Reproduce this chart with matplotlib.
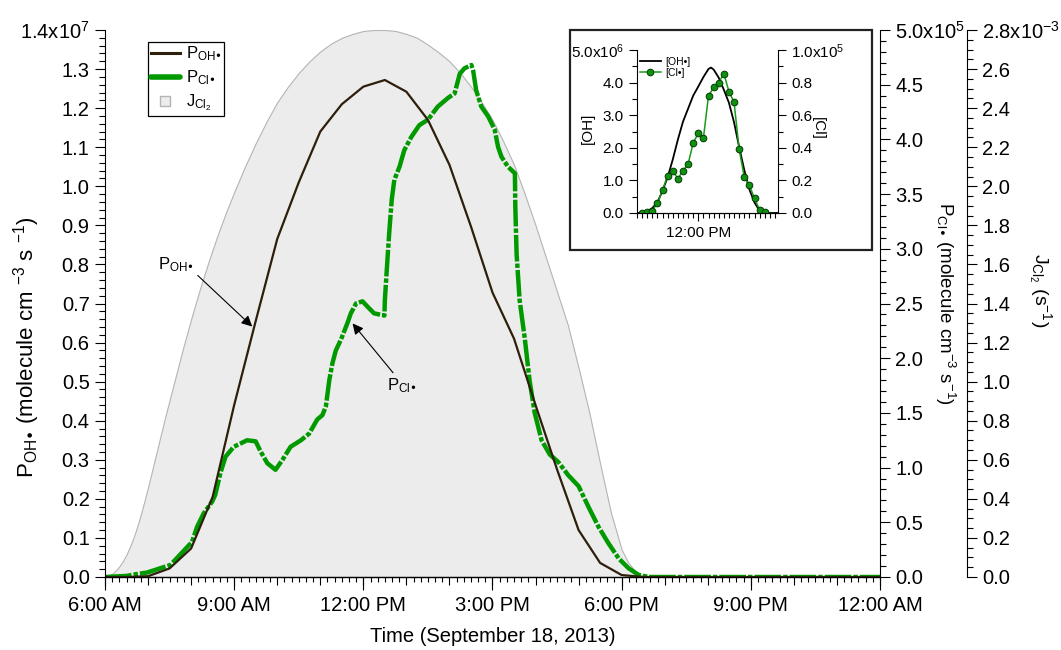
import numpy as np
import matplotlib
matplotlib.use("Agg")
import matplotlib.pyplot as plt
from matplotlib.lines import Line2D
from matplotlib.patches import Rectangle
from matplotlib.ticker import MultipleLocator, FuncFormatter, FixedLocator

plt.rcParams['font.family'] = ['Liberation Sans', 'DejaVu Sans']
plt.rcParams['mathtext.default'] = 'regular'

# ---- data (time in hours of Sept 18, 2013) ----
# P_OH (molecule cm-3 s-1)
oh_time = [6.0, 6.5, 7.0, 7.5, 8.0, 8.5, 9.0, 9.5, 10.0, 10.5, 11.0, 11.5, 12.0,
           12.5, 13.0, 13.5, 14.0, 14.5, 15.0, 15.5, 16.0, 16.5, 17.0, 17.5,
           18.0, 18.5, 24.0]
oh_prod = [0.0, 0.0, 0.002e7, 0.022e7, 0.073e7, 0.205e7, 0.44e7, 0.655e7,
           0.865e7, 1.01e7, 1.14e7, 1.21e7, 1.255e7, 1.272e7, 1.242e7, 1.17e7,
           1.055e7, 0.897e7, 0.728e7, 0.61e7, 0.44e7, 0.275e7, 0.12e7,
           0.036e7, 0.005e7, 0.0, 0.0]

# P_Cl (x1e5 molecule cm-3 s-1)
cl_time = [6.0, 6.5, 6.74, 6.97, 7.52, 8.02, 8.14, 8.29, 8.49, 8.56, 8.68, 8.80,
           8.99, 9.30, 9.50, 9.61, 9.77, 9.96, 10.12, 10.31, 10.55, 10.74,
           10.93, 11.05, 11.13, 11.21, 11.28, 11.36, 11.48, 11.63, 11.71,
           11.83, 11.98, 12.10, 12.25, 12.49, 12.50, 12.55, 12.60, 12.66,
           12.72, 12.84, 12.95, 13.11, 13.30, 13.50, 13.73, 13.97, 14.12,
           14.24, 14.35, 14.51, 14.55, 14.62, 14.74, 14.90, 15.05, 15.13,
           15.21, 15.36, 15.52, 15.53, 15.56, 15.63, 15.75, 15.86, 15.98,
           16.14, 16.33, 16.53, 16.76, 17.00, 17.23, 17.46, 17.69, 17.93,
           18.16, 18.39, 18.63, 24.0]
cl_prod = [0.0, 0.01, 0.027, 0.04, 0.11, 0.32, 0.46, 0.58, 0.69, 0.75, 0.95, 1.10,
           1.19, 1.25, 1.24, 1.15, 1.04, 0.98, 1.07, 1.19, 1.25, 1.31,
           1.44, 1.48, 1.56, 1.80, 1.95, 2.07, 2.17, 2.32, 2.41,
           2.50, 2.52, 2.47, 2.41, 2.39, 2.53, 2.84, 3.14, 3.45,
           3.63, 3.75, 3.90, 4.02, 4.13, 4.18, 4.30, 4.38, 4.42,
           4.60, 4.65, 4.68, 4.63, 4.45, 4.30, 4.21, 4.09, 3.93,
           3.84, 3.75, 3.69, 3.38, 2.95, 2.53, 2.18, 1.80, 1.50,
           1.25, 1.12, 1.05, 0.93, 0.83, 0.64, 0.46, 0.31, 0.17,
           0.08, 0.02, 0.0, 0.0]
cl_prod = [v * 1e5 for v in cl_prod]

# J_Cl2 (x1e-3 s-1)
j_time = [6.0, 6.1, 6.2, 6.3, 6.4, 6.5, 6.6, 6.7, 6.8, 6.9, 7.0, 7.2, 7.4, 7.6,
          7.8, 8.0, 8.2, 8.4, 8.6, 8.8, 9.0, 9.25, 9.5, 9.75, 10.0, 10.25,
          10.5, 10.75, 11.0, 11.25, 11.5, 11.75, 12.0, 12.25, 12.5, 12.75,
          13.0, 13.25, 13.5, 13.75, 14.0, 14.25, 14.5, 14.75, 15.0, 15.25,
          15.5, 15.75, 16.0, 16.25, 16.5, 16.75, 17.0, 17.25, 17.5, 17.75,
          18.0, 18.15, 18.3, 18.45, 18.6, 24.0]
j_cl2 = [0.0, 0.008, 0.022, 0.045, 0.075, 0.115, 0.165, 0.225, 0.295, 0.375,
         0.46, 0.64, 0.82, 0.99, 1.16, 1.32, 1.47, 1.61, 1.74, 1.86, 1.97,
         2.10, 2.22, 2.33, 2.43, 2.51, 2.58, 2.64, 2.69, 2.73, 2.76, 2.78,
         2.795, 2.80, 2.80, 2.795, 2.78, 2.76, 2.725, 2.685, 2.64, 2.58,
         2.51, 2.43, 2.34, 2.23, 2.11, 1.96, 1.80, 1.63, 1.46, 1.29, 1.07,
         0.84, 0.58, 0.33, 0.14, 0.075, 0.033, 0.01, 0.0, 0.0]
j_cl2 = [v * 1e-3 for v in j_cl2]

# inset: radical concentrations
oh_conc_time = [6.0, 6.5, 7.0, 7.5, 8.0, 8.5, 9.0, 9.5, 10.0, 10.5, 11.0, 11.5,
                12.0, 12.5, 13.0, 13.25, 13.5, 14.0, 14.5, 15.0, 15.5, 16.0,
                16.5, 17.0, 17.5, 18.0, 18.5, 19.8]
oh_conc = [0.0, 0.01, 0.05, 0.15, 0.33, 0.68, 1.1, 1.64, 2.25, 2.8, 3.2, 3.6,
           3.88, 4.17, 4.42, 4.46, 4.4, 4.15, 3.78, 3.38, 2.78, 2.02,
           1.32, 0.72, 0.32, 0.07, 0.0, 0.0]
oh_conc = [v * 1e6 for v in oh_conc]

cl_conc_time = [6.5, 7.0, 7.5, 8.0, 8.5, 9.0, 9.5, 10.0, 10.5, 11.0, 11.5, 12.0,
                12.5, 13.0, 13.5, 14.0, 14.5, 15.0, 15.5, 16.0, 16.5, 17.0,
                17.5, 18.0, 18.5]
cl_conc = [0.0, 0.005, 0.015, 0.06, 0.14, 0.23, 0.26, 0.21, 0.26, 0.30, 0.43,
           0.49, 0.46, 0.72, 0.77, 0.80, 0.855, 0.745, 0.68, 0.39, 0.22, 0.17,
           0.09, 0.02, 0.005]
cl_conc = [v * 1e5 for v in cl_conc]

xticks = [6, 9, 12, 15, 18, 21, 24]
xticklabels = ['6:00 AM', '9:00 AM', '12:00 PM', '3:00 PM', '6:00 PM',
               '9:00 PM', '12:00 AM']

brown = '#2e1f0b'
green = '#009a00'
FS = 14.5


def top_fmt(scale, exp, top):
    def f(v, pos):
        if np.isclose(v, top):
            return f'{v / scale:.1f}x10$^{{{exp}}}$'
        return f'{v / scale:.1f}'
    return FuncFormatter(f)


fig = plt.figure(figsize=(10.61, 6.5), dpi=100)
ax = fig.add_axes([105 / 1061, 73 / 650, 775 / 1061, 547 / 650])
ax_cl = ax.twinx()
ax_j = ax.twinx()

ax_j.set_zorder(1)
ax_cl.set_zorder(2)
ax.set_zorder(3)
ax.patch.set_visible(False)

# J_Cl2 shaded area
ax_j.fill_between(j_time, 0, j_cl2, facecolor='#ececec', edgecolor='#b4b4b4',
                  lw=0.8)
ax_j.set_ylim(0, 2.8e-3)

# P_Cl line
ax_cl.plot(cl_time, cl_prod, color=green, lw=3.2,
           linestyle=(0, (6, 0.45, 1.0, 0.45)))
ax_cl.set_ylim(0, 5e5)

# P_OH line
ax.plot(oh_time, oh_prod, color=brown, lw=1.6)
ax.set_ylim(0, 1.4e7)
ax.set_xlim(6, 24)

# spines
for a in (ax, ax_cl, ax_j):
    a.spines['top'].set_visible(False)
ax.spines['right'].set_visible(False)
ax_cl.spines['left'].set_visible(False)
ax_j.spines['left'].set_visible(False)
ax_j.spines['right'].set_position(('axes', 1 + 87 / 775))

# y ticks
ax.yaxis.set_major_locator(MultipleLocator(1e6))
ax.yaxis.set_minor_locator(MultipleLocator(2e5))
ax.yaxis.set_major_formatter(top_fmt(1e7, 7, 1.4e7))
ax_cl.yaxis.set_major_locator(MultipleLocator(5e4))
ax_cl.yaxis.set_minor_locator(MultipleLocator(1e4))
ax_cl.yaxis.set_major_formatter(top_fmt(1e5, 5, 5e5))
ax_j.yaxis.set_major_locator(MultipleLocator(2e-4))
ax_j.yaxis.set_minor_locator(MultipleLocator(5e-5))
ax_j.yaxis.set_major_formatter(top_fmt(1e-3, '-3', 2.8e-3))
for a in (ax, ax_cl, ax_j):
    a.tick_params(axis='y', which='major', direction='out', length=7.5,
                  width=0.8, labelsize=FS)
    a.tick_params(axis='y', which='minor', direction='out', length=4, width=0.8)

# x ticks: hourly + 10 min minor, labelled ticks every 3 h on a secondary axis
ax.xaxis.set_major_locator(MultipleLocator(1))
ax.xaxis.set_minor_locator(MultipleLocator(1 / 6))
ax.tick_params(axis='x', which='major', length=6, width=0.8, labelbottom=False)
ax.tick_params(axis='x', which='minor', length=3.5, width=0.8)
sec = ax.secondary_xaxis('bottom')
sec.xaxis.set_major_locator(FixedLocator(xticks))
sec.set_xticklabels(xticklabels)
sec.tick_params(axis='x', length=9, width=0.8, labelsize=FS, pad=4.5)
sec.set_xlabel('Time (September 18, 2013)', fontsize=FS, labelpad=9)

# axis labels
ax.set_ylabel('P$_{OH•}$ (molecule cm $^{-3}$ s $^{-1}$)', fontsize=16,
              va='center')
ax.yaxis.set_label_coords(-0.101, 0.42)
ax_cl.set_ylabel('P$_{Cl•}$ (molecule cm$^{-3}$ s$^{-1}$)', fontsize=13.5,
                 rotation=270, va='center')
ax_cl.yaxis.set_label_coords(1.084, 0.5)
ax_j.set_ylabel('J$_{Cl_2}$ (s$^{-1}$)', fontsize=14, rotation=270, va='center')
ax_j.yaxis.set_label_coords(1.2065, 0.525)

# annotations
ax.annotate('P$_{OH•}$', xy=(9.42, 0.641e7), xytext=(7.65, 0.80e7),
            fontsize=12, ha='center', va='center',
            arrowprops=dict(arrowstyle='-|>', color='black', lw=0.8,
                            mutation_scale=16, shrinkA=1, shrinkB=0,
                            relpos=(1.0, 0.1)))
ax.annotate('P$_{Cl•}$', xy=(11.75, 0.649e7), xytext=(12.9, 0.489e7),
            fontsize=12, ha='center', va='center',
            arrowprops=dict(arrowstyle='-|>', color='black', lw=0.8,
                            mutation_scale=16, shrinkA=1, shrinkB=0,
                            relpos=(0.3, 1.0)))

# legend
handles = [Line2D([], [], color=brown, lw=2.2),
           Line2D([], [], color=green, lw=4, solid_capstyle='round'),
           Line2D([], [], ls='none', marker='s', markersize=7,
                  markerfacecolor='#ececec', markeredgecolor='#b4b4b4')]
leg = ax.legend(handles, ['P$_{OH•}$', 'P$_{Cl•}$', 'J$_{Cl_2}$'],
                loc='upper left', bbox_to_anchor=(0.0555, 0.978), fontsize=12,
                frameon=True, fancybox=False, edgecolor='black', framealpha=1,
                handlelength=1.75, handletextpad=0.35, labelspacing=0.32,
                borderpad=0.15, borderaxespad=0)
leg.get_frame().set_linewidth(0.9)

# ---- inset ----
box = Rectangle((570 / 1061, 400 / 650), 302 / 1061, 220 / 650,
                transform=fig.transFigure, facecolor='white',
                edgecolor='#222222', lw=1.6, zorder=4)
fig.add_artist(box)

axin = fig.add_axes([637 / 1061, 437 / 650, 141 / 1061, 163 / 650])
axin_r = axin.twinx()
axin.set_zorder(5)
axin_r.set_zorder(6)
axin.patch.set_visible(False)

axin.plot(oh_conc_time, oh_conc, color='black', lw=1.3, label='[OH•]')
axin_r.plot(cl_conc_time, cl_conc, color='#1a9a1a', lw=1.1, marker='o',
            markersize=4.8, markerfacecolor='#109010',
            markeredgecolor='#003c00', markeredgewidth=0.7, label='[Cl•]')
axin.set_xlim(6, 19.8)
axin.set_ylim(0, 5e6)
axin_r.set_ylim(0, 1e5)

for a in (axin, axin_r):
    a.spines['top'].set_visible(False)
axin.spines['right'].set_visible(False)
axin_r.spines['left'].set_visible(False)

axin.yaxis.set_major_locator(MultipleLocator(1e6))
axin.yaxis.set_minor_locator(MultipleLocator(5e5))
axin.yaxis.set_major_formatter(top_fmt(1e6, 6, 5e6))
axin_r.yaxis.set_major_locator(MultipleLocator(2e4))
axin_r.yaxis.set_minor_locator(MultipleLocator(1e4))
axin_r.yaxis.set_major_formatter(top_fmt(1e5, 5, 1e5))
axin.xaxis.set_major_locator(FixedLocator([12]))
axin.xaxis.set_minor_locator(MultipleLocator(0.5))
axin.set_xticklabels(['12:00 PM'])
for a in (axin, axin_r):
    a.tick_params(which='major', direction='out', length=6, width=0.8,
                  labelsize=11)
    a.tick_params(which='minor', direction='out', length=3.5, width=0.8)

axin.set_ylabel('[OH]', fontsize=11, va='center')
axin.yaxis.set_label_coords(-0.348, 0.52)
axin_r.set_ylabel('[Cl]', fontsize=11, rotation=270, va='center')
axin_r.yaxis.set_label_coords(1.28, 0.52)

h1, l1 = axin.get_legend_handles_labels()
h2, l2 = axin_r.get_legend_handles_labels()
axin_r.legend(h1 + h2, l1 + l2, loc='upper left', bbox_to_anchor=(0.02, 0.96),
              frameon=False, fontsize=7.5, handlelength=2.0,
              handletextpad=0.4, labelspacing=0.1, borderaxespad=0,
              borderpad=0)

fig.savefig('out.png', dpi=100)
